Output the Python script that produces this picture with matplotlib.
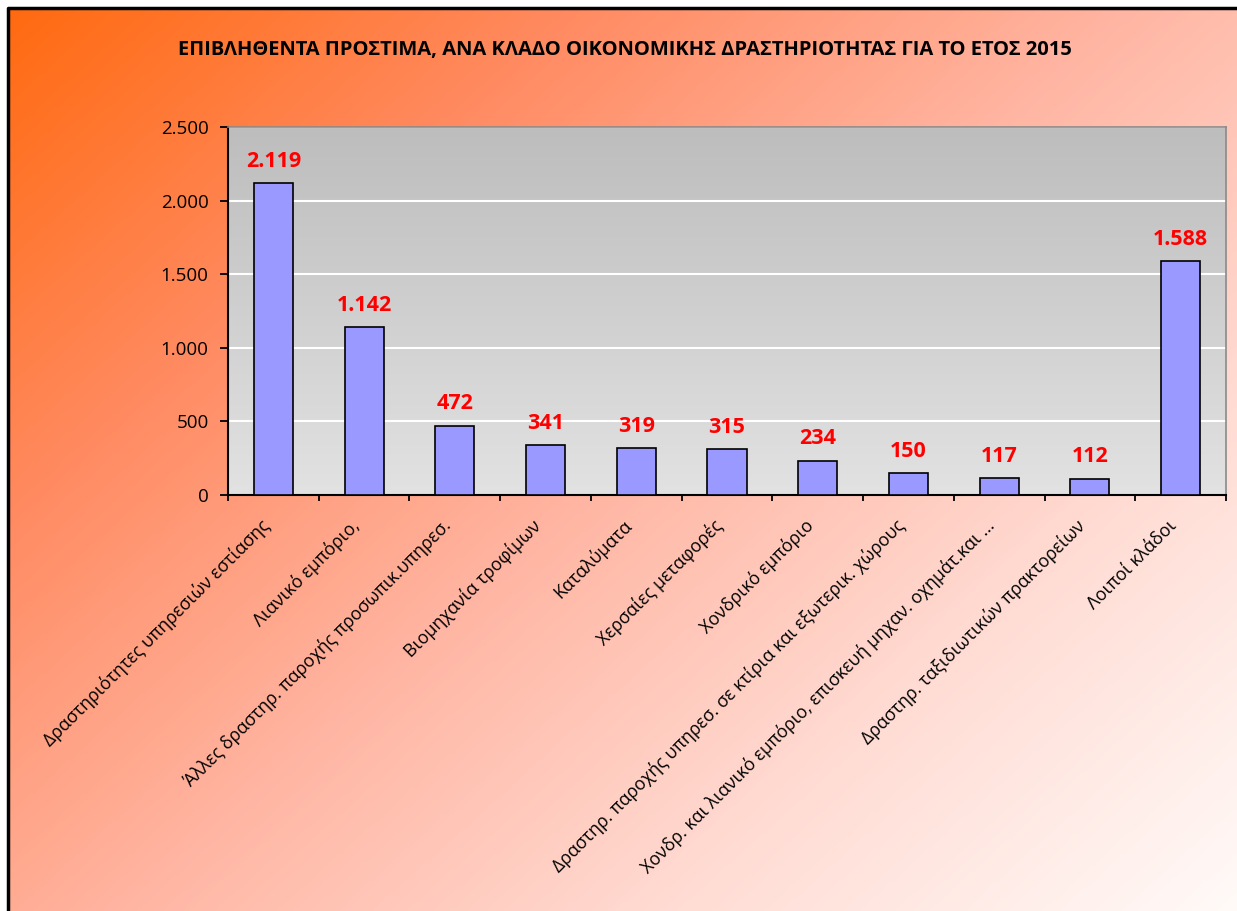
"""
Fines imposed by sector of economic activity, 2015
"""
import numpy as np
import matplotlib
matplotlib.use('Agg')
import matplotlib.pyplot as plt
import matplotlib.transforms as mtransforms
from matplotlib.colors import LinearSegmentedColormap
from matplotlib.ticker import FuncFormatter

plt.rcParams['font.family'] = ['Open Sans', 'DejaVu Sans']

title = 'ΕΠΙΒΛΗΘΕΝΤΑ ΠΡΟΣΤΙΜΑ, ΑΝΑ ΚΛΑΔΟ ΟΙΚΟΝΟΜΙΚΗΣ ΔΡΑΣΤΗΡΙΟΤΗΤΑΣ ΓΙΑ ΤΟ ΕΤΟΣ 2015'
sectors = [
    'Δραστηριότητες υπηρεσιών εστίασης',
    'Λιανικό εμπόριο,',
    'Άλλες δραστηρ. παροχής προσωπικ.υπηρεσ.',
    'Βιομηχανία τροφίμων',
    'Καταλύματα',
    'Χερσαίες μεταφορές',
    'Χονδρικό εμπόριο',
    'Δραστηρ. παροχής υπηρεσ. σε κτίρια και εξωτερικ. χώρους',
    'Χονδρ. και λιανικό εμπόριο, επισκευή μηχαν. οχημάτ.και ...',
    'Δραστηρ. ταξιδιωτικών πρακτορείων',
    'Λοιποί κλάδοι',
]
fines = [2119, 1142, 472, 341, 319, 315, 234, 150, 117, 112, 1588]


def fmt_thousands(v):
    return f'{int(round(v)):,}'.replace(',', '.')


fig = plt.figure(figsize=(12.37, 9.11), dpi=100)

# figure background: diagonal orange -> near white gradient, black frame
bg = fig.add_axes([0, 0, 1, 1], zorder=-10)
bg.set_axis_off()
bg.set_xlim(0, 1)
bg.set_ylim(0, 1)
gx, gy = np.meshgrid(np.linspace(0, 1, 400), np.linspace(0, 1, 300))
t = 0.55 * gx + 0.45 * gy
bg_cmap = LinearSegmentedColormap.from_list('bg', [
    (0.0, '#ff6a10'), (0.25, '#ff8a60'), (0.5, '#ffb5a2'),
    (0.75, '#ffdcd4'), (1.0, '#fffaf8')])
bg.imshow(t, cmap=bg_cmap, extent=[8 / 1237, 1.0, 0, 1 - 8 / 911],
          aspect='auto', origin='upper', vmin=0, vmax=1)
bg.set_xlim(0, 1)
bg.set_ylim(0, 1)
bg.plot([8 / 1237, 8 / 1237, 1.0], [0, 1 - 8 / 911, 1 - 8 / 911],
        color='black', lw=2.5, zorder=2, solid_capstyle='butt')

ax = fig.add_axes([228 / 1237, 1 - 495 / 911, 998 / 1237, 368 / 911])
x = np.arange(len(sectors))

# plot area gradient (darker gray at top)
pa_cmap = LinearSegmentedColormap.from_list('pa', ['#bdbdbd', '#e2e2e2'])
ax.imshow(np.linspace(0, 1, 256).reshape(-1, 1), cmap=pa_cmap,
          extent=[0, 1, 0, 1], transform=ax.transAxes, aspect='auto',
          origin='upper', zorder=0)

ax.bar(x, fines, width=0.43, color='#9999ff', edgecolor='black',
       linewidth=1.2, zorder=3)
for xi, v in zip(x, fines):
    ax.annotate(fmt_thousands(v), (xi, v), xytext=(0, 8),
                textcoords='offset points', ha='center', va='bottom',
                color='#ff0000', fontsize=15.5, fontweight='bold', zorder=4)

ax.set_xlim(-0.5, len(sectors) - 0.5)
ax.set_ylim(0, 2500)
ax.set_yticks([0, 500, 1000, 1500, 2000, 2500])
ax.yaxis.set_major_formatter(FuncFormatter(lambda v, p: fmt_thousands(v)))
ax.grid(axis='y', color='white', linewidth=1.5, zorder=1)
ax.set_axisbelow(True)

ax.set_xticks(x)
ax.set_xticklabels(sectors, rotation=45, ha='right', va='center',
                   rotation_mode='anchor', fontsize=12.8)
ax.set_xticks(np.arange(-0.5, len(sectors)), minor=True)
ax.tick_params(axis='x', which='major', length=0, pad=20)
ax.tick_params(axis='x', which='minor', length=4.5, width=1.3, direction='out')
ax.tick_params(axis='y', labelsize=13.5, length=6, width=1.3,
               direction='out', pad=8)
shift = mtransforms.ScaledTranslation(-7 / 100, 0, fig.dpi_scale_trans)
for lbl in ax.get_xticklabels():
    lbl.set_transform(lbl.get_transform() + shift)

for side in ['left', 'bottom']:
    ax.spines[side].set_linewidth(1.5)
    ax.spines[side].set_color('black')
for side in ['top', 'right']:
    ax.spines[side].set_linewidth(1.2)
    ax.spines[side].set_color('#8a8a8a')

fig.text(625 / 1237, 1 - 50 / 911, title, ha='center', va='center',
         fontsize=14.5, fontweight='bold')

fig.savefig('out.png', dpi=100)
